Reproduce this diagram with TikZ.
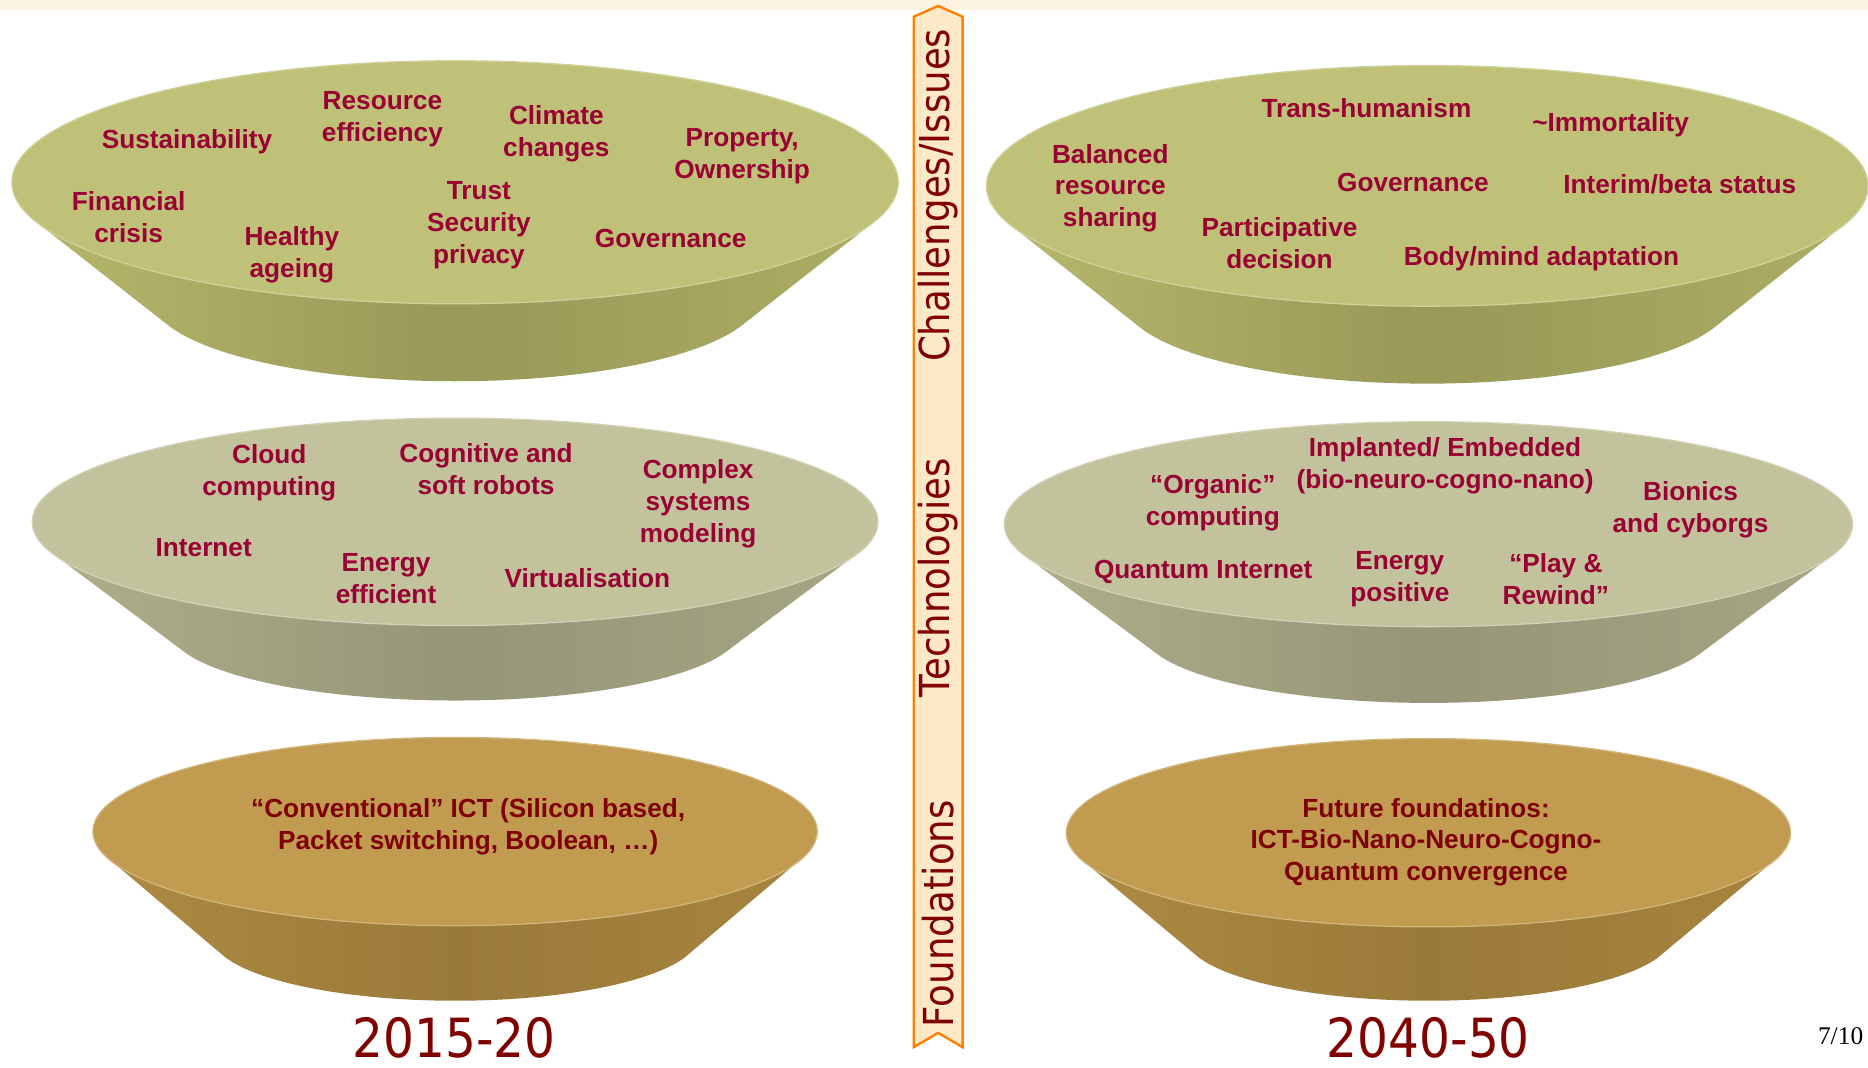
\documentclass[tikz,border=0pt]{standalone}
\usepackage{fontspec}
\newfontfamily\labelfont{Liberation Sans}
\newfontfamily\bandfont[FakeStretch=0.9]{DejaVu Sans}
\newfontfamily\pagefont{Liberation Serif}
\usetikzlibrary{calc}

\definecolor{dishred}{RGB}{153,0,51}
\definecolor{darkred}{RGB}{128,0,0}
\definecolor{bandfill}{RGB}{253,233,200}
\definecolor{bandline}{RGB}{255,128,0}
\definecolor{topstrip}{RGB}{253,243,227}
% challenges dish
\definecolor{chface}{RGB}{192,193,120}
\definecolor{chsideL}{RGB}{182,182,108}
\definecolor{chsideM}{RGB}{153,153,88}
\definecolor{chsideR}{RGB}{172,172,100}
% technologies dish
\definecolor{teface}{RGB}{194,194,156}
\definecolor{tesideL}{RGB}{174,174,138}
\definecolor{tesideM}{RGB}{150,150,120}
\definecolor{tesideR}{RGB}{165,165,131}
% foundations dish
\definecolor{foface}{RGB}{193,156,80}
\definecolor{fosideL}{RGB}{172,138,66}
\definecolor{fosideM}{RGB}{154,122,58}
\definecolor{fosideR}{RGB}{166,132,63}

\tikzset{
  dishtext/.style={font=\labelfont\bfseries\fontsize{16.5}{20}\selectfont,text=dishred,align=center,inner sep=0.75pt},
  basetext/.style={dishtext,text=darkred},
  bandtext/.style={font=\bandfont\fontsize{26}{30}\selectfont,text=darkred,rotate=90,inner sep=0pt},
  yeartext/.style={font=\bandfont\fontsize{34}{40}\selectfont,text=darkred,anchor=base,inner sep=0pt},
  ch face/.style={fill=chface,draw=chface!75!white,line width=0.8pt},
  ch side/.style={left color=chsideL,right color=chsideR,middle color=chsideM},
  te face/.style={fill=teface,draw=teface!75!white,line width=0.8pt},
  te side/.style={left color=tesideL,right color=tesideR,middle color=tesideM},
  fo face/.style={fill=foface,draw=foface!75!white,line width=0.8pt},
  fo side/.style={left color=fosideL,right color=fosideR,middle color=fosideM},
}

% dish: cx, cy, rx, ry, bottom cy, bottom rx, bottom ry, kind
\newcommand{\drawdish}[8]{%
  \shade[#8 side] ($(#1,#2)+(160:#3 and #4)$) -- ($(#1,#5)+(160:#6 and #7)$)
    arc[start angle=160,end angle=20,x radius=#6,y radius=#7]
    -- ($(#1,#2)+(20:#3 and #4)$) -- cycle;
  \path[#8 face] (#1,#2) ellipse[x radius=#3,y radius=#4];
}

\begin{document}
\begin{tikzpicture}[x=0.75pt,y=0.75pt,yscale=-1,xscale=1]
\useasboundingbox (0,0) rectangle (1568,896);

%Shape: top strip
\fill[topstrip] (0,0) rectangle (1568,8.5);

%Shape: dishes, left column (2015-20)
\drawdish{382}{153}{372}{102}{250}{255}{70}{ch}
\drawdish{382}{438}{355}{87}{528}{240}{60}{te}
\drawdish{382}{698}{304}{79}{785}{205}{55}{fo}
%Shape: dishes, right column (2040-50)
\drawdish{1198}{156}{370}{101}{252}{255}{70}{ch}
\drawdish{1199}{440}{356}{86}{530}{240}{60}{te}
\drawdish{1199}{699}{304}{79}{785}{205}{55}{fo}

%Shape: band in the middle
\filldraw[fill=bandfill,draw=bandline,line width=1.5pt,line join=miter]
  (767,14) -- (787.5,5) -- (808,14) -- (808,879) -- (787.5,867) -- (767,879) -- cycle;

% Text Node
\node[bandtext] (challenges) at (787.5,164) {Challenges/Issues};
% Text Node
\node[bandtext] (technologies) at (787.5,485) {Technologies};
% Text Node
\node[bandtext] (foundations) at (787.5,767) {Foundations};

% Text Node
\node[dishtext] (sustain) at (157,119) {Sustainability};
% Text Node
\node[dishtext] (resource) at (321,100) {Resource\\efficiency};
% Text Node
\node[dishtext] (climate) at (467,112) {Climate\\changes};
% Text Node
\node[dishtext] (property) at (623,131) {Property,\\Ownership};
% Text Node
\node[dishtext] (financial) at (108,182) {Financial\\crisis};
% Text Node
\node[dishtext] (healthy) at (245,214) {Healthy\\ageing};
% Text Node
\node[dishtext] (trust) at (402,189) {Trust\\Security\\privacy};
% Text Node
\node[dishtext] (governL) at (563,200) {Governance};

% Text Node
\node[dishtext] (cloud) at (226,397) {Cloud\\computing};
% Text Node
\node[dishtext] (cognitive) at (408,394) {Cognitive and\\soft robots};
% Text Node
\node[dishtext] (complex) at (586,423) {Complex\\systems\\modeling};
% Text Node
\node[dishtext] (internet) at (171,460) {Internet};
% Text Node
\node[dishtext] (efficient) at (324,486) {Energy\\efficient};
% Text Node
\node[dishtext] (virtual) at (493,485) {Virtualisation};

% Text Node
\node[basetext] (conventional) at (393,694) {“Conventional” ICT (Silicon based,\\Packet switching, Boolean, …)};

% Text Node
\node[dishtext] (transhuman) at (1147,91) {Trans-humanism};
% Text Node
\node[dishtext] (immortal) at (1352,105) {\textasciitilde Immortality};
% Text Node
\node[dishtext] (balanced) at (932,158) {Balanced\\resource\\sharing};
% Text Node
\node[dishtext] (governR) at (1186,153) {Governance};
% Text Node
\node[dishtext] (interim) at (1410,155) {Interim/beta status};
% Text Node
\node[dishtext] (particip) at (1074,204) {Participative\\decision};
% Text Node
\node[dishtext] (bodymind) at (1294,217) {Body/mind adaptation};

% Text Node
\node[dishtext] (implanted) at (1213,391) {Implanted/ Embedded\\(bio-neuro-cogno-nano)};
% Text Node
\node[dishtext] (organic) at (1018,422) {“Organic”\\computing};
% Text Node
\node[dishtext] (bionics) at (1419,428) {Bionics\\and cyborgs};
% Text Node
\node[dishtext] (quantum) at (1010,480) {Quantum Internet};
% Text Node
\node[dishtext] (positive) at (1175,486) {Energy\\positive};
% Text Node
\node[dishtext] (rewind) at (1306,486) {“Play \&\\Rewind”};

% Text Node
\node[basetext] (future) at (1197,707) {Future foundatinos:\\ICT-Bio-Nano-Neuro-Cogno-\\Quantum convergence};

% Text Node
\node[yeartext] (yearL) at (381,888) {2015-20};
% Text Node
\node[yeartext] (yearR) at (1199,888) {2040-50};
% Text Node
\node[font=\pagefont\fontsize{16}{19}\selectfont,anchor=base,inner sep=0pt] (pageno) at (1545,877) {7/10};

\end{tikzpicture}
\end{document}
